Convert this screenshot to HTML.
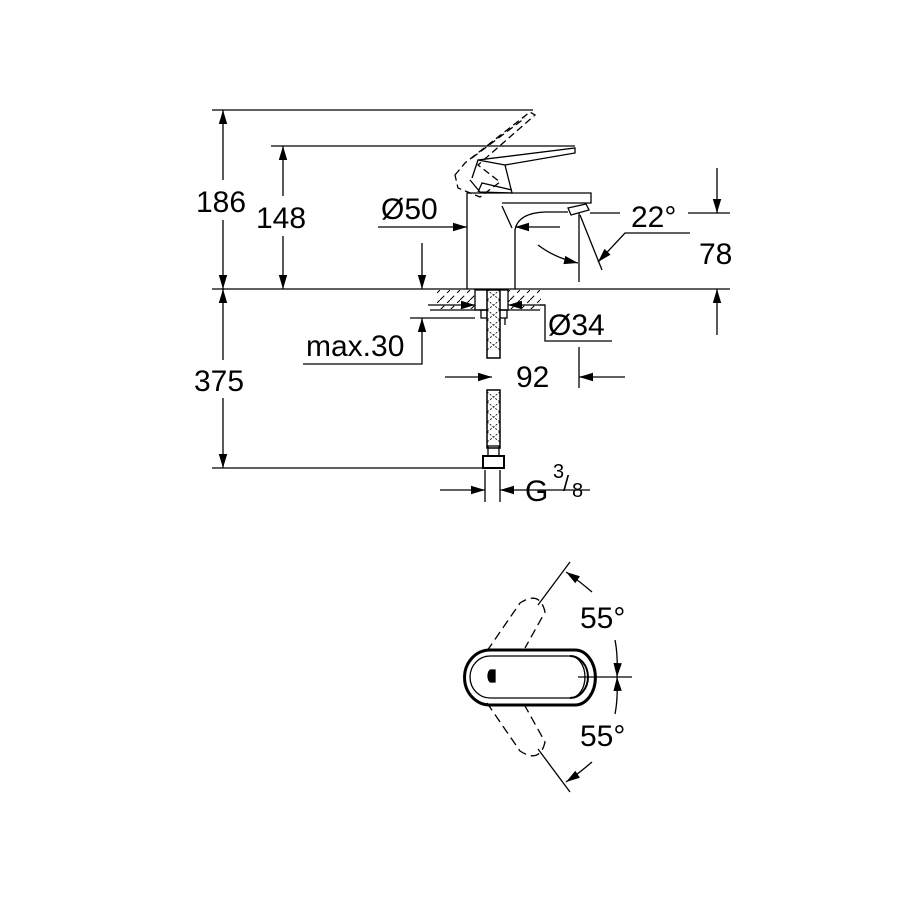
<!DOCTYPE html>
<html><head><style>html,body{margin:0;padding:0;background:#fff;}svg{display:block}</style></head>
<body>
<svg width="900" height="900" viewBox="0 0 900 900" xmlns="http://www.w3.org/2000/svg">
<defs>
<marker id="a" viewBox="0 0 10 10" refX="10" refY="5" markerWidth="14" markerHeight="14" markerUnits="userSpaceOnUse" orient="auto"><path d="M0,2 L10,5 L0,8 Z" fill="#000"/></marker>
<pattern id="h" width="10" height="10" patternUnits="userSpaceOnUse"><path d="M0,10 L10,0" stroke="#000" stroke-width="1" stroke-dasharray="6,4"/></pattern>
</defs>
<g stroke="#000" stroke-width="1.3" fill="none" font-family="'Liberation Sans',sans-serif">
<line x1="212" y1="110" x2="533" y2="110"/>
<line x1="271" y1="146" x2="575" y2="146"/>
<line x1="212" y1="289" x2="730" y2="289"/>
<line x1="212" y1="468" x2="490" y2="468"/>
<line x1="223" y1="180" x2="223" y2="110" marker-end="url(#a)"/>
<line x1="223" y1="220" x2="223" y2="289" marker-end="url(#a)"/>
<line x1="223" y1="398" x2="223" y2="468" marker-end="url(#a)"/>
<line x1="223" y1="360" x2="223" y2="289" marker-end="url(#a)"/>
<line x1="283" y1="196" x2="283" y2="146" marker-end="url(#a)"/>
<line x1="283" y1="236" x2="283" y2="289" marker-end="url(#a)"/>
<line x1="378" y1="227" x2="467" y2="227" marker-end="url(#a)"/>
<line x1="560" y1="227" x2="515" y2="227" marker-end="url(#a)"/>
<line x1="422" y1="243" x2="422" y2="289" marker-end="url(#a)"/>
<polyline points="303,364 422,364 422,318" marker-end="url(#a)"/>
<line x1="410" y1="318" x2="475" y2="318"/>
<path d="M467,289 V193 H591 V203 H502" />
<path d="M515,289 V230 Q518,213 545,212 H568"/>
<path d="M502,206 L512,228"/>
<path d="M568,208 L586,204 L589,210 L571,215 Z"/>
<path d="M472,178 L478,160 L575,148 L575,153 L505,165 L512,193 L480,192 L470,180" />
<path d="M478,160 L505,165"/>
<path d="M478,192 L482,183 L512,190"/>
<g stroke-dasharray="7,4">
<path d="M455,175 L465,163 L530,112 L535,115 L478,165 L500,182 L480,197 L458,188 Z"/>
<path d="M472,158 L525,118"/>
</g>
<line x1="590" y1="213" x2="620" y2="213"/>
<line x1="688" y1="213" x2="730" y2="213"/>
<line x1="579" y1="213" x2="579" y2="282"/>
<line x1="580" y1="215" x2="602" y2="270"/>
<polyline points="690,233 625,233 598,262" marker-end="url(#a)"/>
<path d="M538,245 Q555,258 578,263" marker-end="url(#a)"/>
<line x1="717" y1="168" x2="717" y2="213" marker-end="url(#a)"/>
<line x1="717" y1="335" x2="717" y2="289" marker-end="url(#a)"/>
<rect x="437" y="290" width="38" height="19" fill="url(#h)" stroke="none"/>
<rect x="508" y="290" width="33" height="19" fill="url(#h)" stroke="none"/>
<line x1="430" y1="310" x2="540" y2="310"/>
<rect x="475" y="290" width="33" height="20"/>
<rect x="481" y="310" width="26" height="8"/>
<line x1="505" y1="318" x2="505" y2="325"/>
<rect x="487" y="290" width="13" height="68" fill="#fff" stroke-width="1.5"/>
<path d="M487,290 L500,300 M487,300 L500,310 M487,310 L500,320 M487,320 L500,330 M487,330 L500,340 M487,340 L500,350 M500,290 L487,300 M500,300 L487,310 M500,310 L487,320 M500,320 L487,330 M500,330 L487,340 M500,340 L487,350" stroke-width="0.8" stroke-dasharray="2,1.5"/>
<rect x="487" y="390" width="13" height="58" fill="#fff" stroke-width="1.5"/>
<path d="M487,392 L500,402 M487,402 L500,412 M487,412 L500,422 M487,422 L500,432 M487,432 L500,442 M500,392 L487,402 M500,402 L487,412 M500,412 L487,422 M500,422 L487,432 M500,432 L487,442" stroke-width="0.8" stroke-dasharray="2,1.5"/>
<rect x="488" y="446" width="11" height="10"/>
<rect x="483" y="456" width="21" height="12" stroke-width="2"/>
<line x1="485" y1="470" x2="485" y2="502"/>
<line x1="500" y1="470" x2="500" y2="502"/>
<line x1="428" y1="305" x2="475" y2="305" marker-end="url(#a)"/>
<line x1="545" y1="305" x2="508" y2="305" marker-end="url(#a)"/>
<polyline points="540,305 545,305 545,341 612,341"/>
<line x1="445" y1="377" x2="492" y2="377" marker-end="url(#a)"/>
<line x1="625" y1="377" x2="579" y2="377" marker-end="url(#a)"/>
<line x1="579" y1="347" x2="579" y2="388"/>
<line x1="440" y1="490" x2="485" y2="490" marker-end="url(#a)"/>
<line x1="590" y1="490" x2="500" y2="490" marker-end="url(#a)"/>
<path d="M490,650 H575 A20,27 0 0 1 575,705 H490 A25,27 0 0 1 490,650 Z" stroke-width="3"/>
<path d="M490,656 H570 A15,21 0 0 1 570,698 H490 A20,21 0 0 1 490,656 Z" stroke-width="1.3"/>
<path d="M570,656 A18,21 0 0 1 570,698" stroke-width="2"/>
<path d="M491,670 h4 v12 h-4 a3,6 0 0 1 0,-12z" fill="#000"/>
<line x1="578" y1="677" x2="632" y2="677"/>
<g stroke-dasharray="9,5">
<path d="M487,651 L520,603 Q540,590 545,612 L525,648"/>
<path d="M487,703 L520,751 Q540,764 545,742 L525,706"/>
</g>
<line x1="538" y1="605" x2="570" y2="562"/>
<line x1="538" y1="749" x2="570" y2="792"/>
<path d="M592,592 Q578,580 566,572" marker-end="url(#a)"/>
<path d="M615,640 Q618,655 617,677" marker-end="url(#a)"/>
<path d="M592,762 Q578,774 566,782" marker-end="url(#a)"/>
<path d="M615,714 Q618,699 617,677" marker-end="url(#a)"/>
</g>
<g font-family="'Liberation Sans',sans-serif" font-size="30" fill="#000">
<text x="196" y="212">186</text>
<text x="256" y="228">148</text>
<text x="381" y="219">Ø50</text>
<text x="631" y="227">22°</text>
<text x="699" y="264">78</text>
<text x="306" y="356">max.30</text>
<text x="548" y="335">Ø34</text>
<text x="516" y="387">92</text>
<text x="194" y="391">375</text>
<text x="525" y="501">G</text>
<text x="553" y="478" font-size="20">3</text>
<text x="563" y="491" font-size="22">/</text>
<text x="572" y="497" font-size="20">8</text>
<text x="580" y="628">55°</text>
<text x="580" y="746">55°</text>
</g>
</svg>
</body></html>
